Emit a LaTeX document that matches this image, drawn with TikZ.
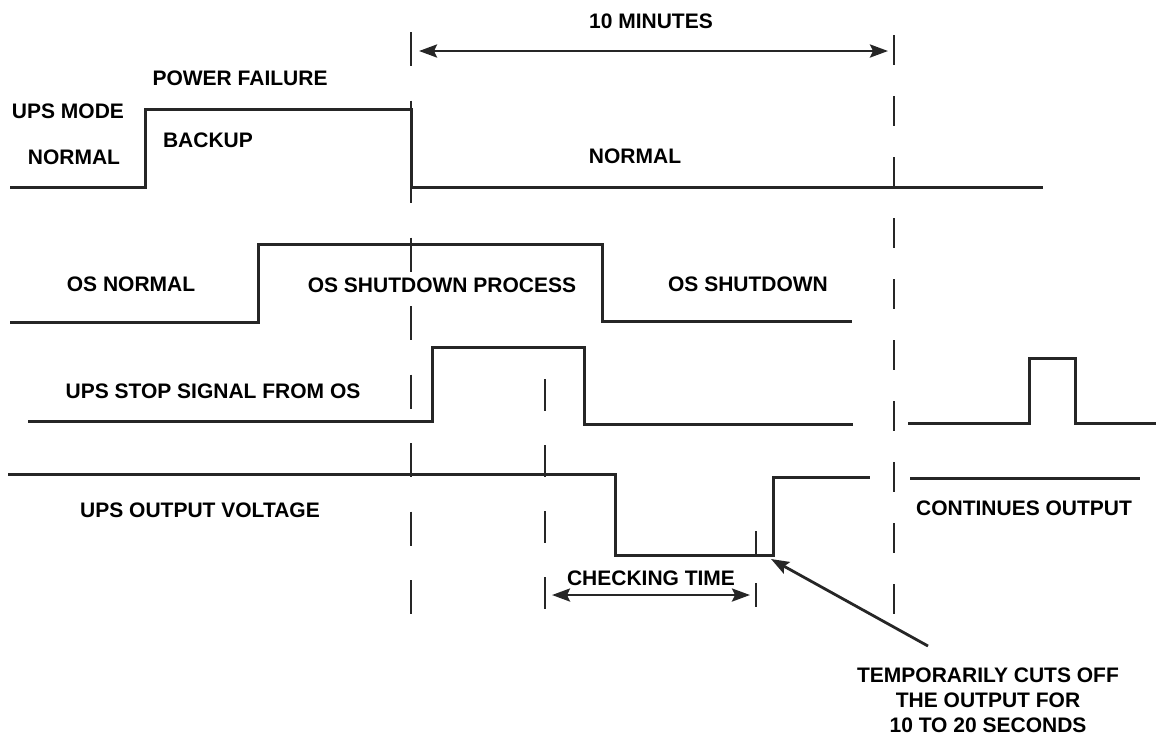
\documentclass[tikz,border=0pt]{standalone}
\usepackage{fontspec}
\setmainfont{Liberation Sans}
\usetikzlibrary{arrows.meta}
\begin{document}
\begin{tikzpicture}[x=0.5pt,y=-0.5pt,
  sig/.style={line width=1.5pt,black!85,line join=miter},
  marker/.style={line width=1.4pt,black!85},
  dim/.style={line width=1.4pt,black!85,{Stealth[length=9pt,width=6.5pt,inset=1.5pt]}-{Stealth[length=9pt,width=6.5pt,inset=1.5pt]}},
  pointer/.style={line width=1.4pt,black!85,-{Stealth[length=9pt,width=6.5pt,inset=1.5pt]}},
  lbl/.style={font=\bfseries\fontsize{10.5}{12.5}\selectfont,inner sep=0pt}]
  \useasboundingbox (0,0) rectangle (1159,741);
  \draw[sig] (10,187) -- (145,187) -- (145,109) -- (411,109) -- (411,187) -- (1043,187);
  \draw[sig] (10,322) -- (258,322) -- (258,244) -- (602,244) -- (602,321) -- (852,321);
  \draw[sig] (28,421) -- (432,421) -- (432,347) -- (584,347) -- (584,424) -- (853,424);
  \draw[sig] (908,423) -- (1029,423) -- (1029,358) -- (1075,358) -- (1075,423) -- (1156,423);
  \draw[sig] (8,474) -- (615,474) -- (615,555) -- (773,555) -- (773,477) -- (870,477);
  \draw[sig] (910,478) -- (1140,478);
  \draw[marker,dash pattern=on 17pt off 17.25pt] (411,32) -- (411,614);
  \draw[marker,dash pattern=on 15pt off 15.5pt] (894,35) -- (894,614);
  \draw[marker,dash pattern=on 16pt off 17pt] (545,379) -- (545,609);
  \draw[marker] (756,531) -- (756,555) (756,583) -- (756,607);
  \coordinate (tenl) at (419,51);
  \coordinate (tenr) at (888,51);
  \coordinate (chkl) at (552,595);
  \coordinate (chkr) at (750,595);
  \coordinate (cuttail) at (928,646);
  \coordinate (cuttip) at (771,559);
  \draw[dim] (tenl) -- (tenr);
  \draw[dim] (chkl) -- (chkr);
  \draw[pointer] (cuttail) -- (cuttip);
  \node[lbl] (modelbl) at (68,111) {UPS MODE};
  \node[lbl] (normlbl) at (74,157) {NORMAL};
  \node[lbl] (backlbl) at (208,140) {BACKUP};
  \node[lbl] (faillbl) at (240,78) {POWER FAILURE};
  \node[lbl] (tenlbl) at (651,21) {10 MINUTES};
  \node[lbl] (restlbl) at (635,156) {NORMAL};
  \node[lbl] (osnormlbl) at (131,284) {OS NORMAL};
  \node[lbl] (osproclbl) at (442,285) {OS SHUTDOWN PROCESS};
  \node[lbl] (osofflbl) at (748,284) {OS SHUTDOWN};
  \node[lbl] (stoplbl) at (213,391) {UPS STOP SIGNAL FROM OS};
  \node[lbl] (outlbl) at (200,510) {UPS OUTPUT VOLTAGE};
  \node[lbl] (contlbl) at (1024,508) {CONTINUES OUTPUT};
  \node[lbl] (chklbl) at (651,578) {CHECKING TIME};
  \node[lbl,align=center] (cutlbl) at (988,700) {TEMPORARILY CUTS OFF\\THE OUTPUT FOR\\10 TO 20 SECONDS};
\end{tikzpicture}
\end{document}
